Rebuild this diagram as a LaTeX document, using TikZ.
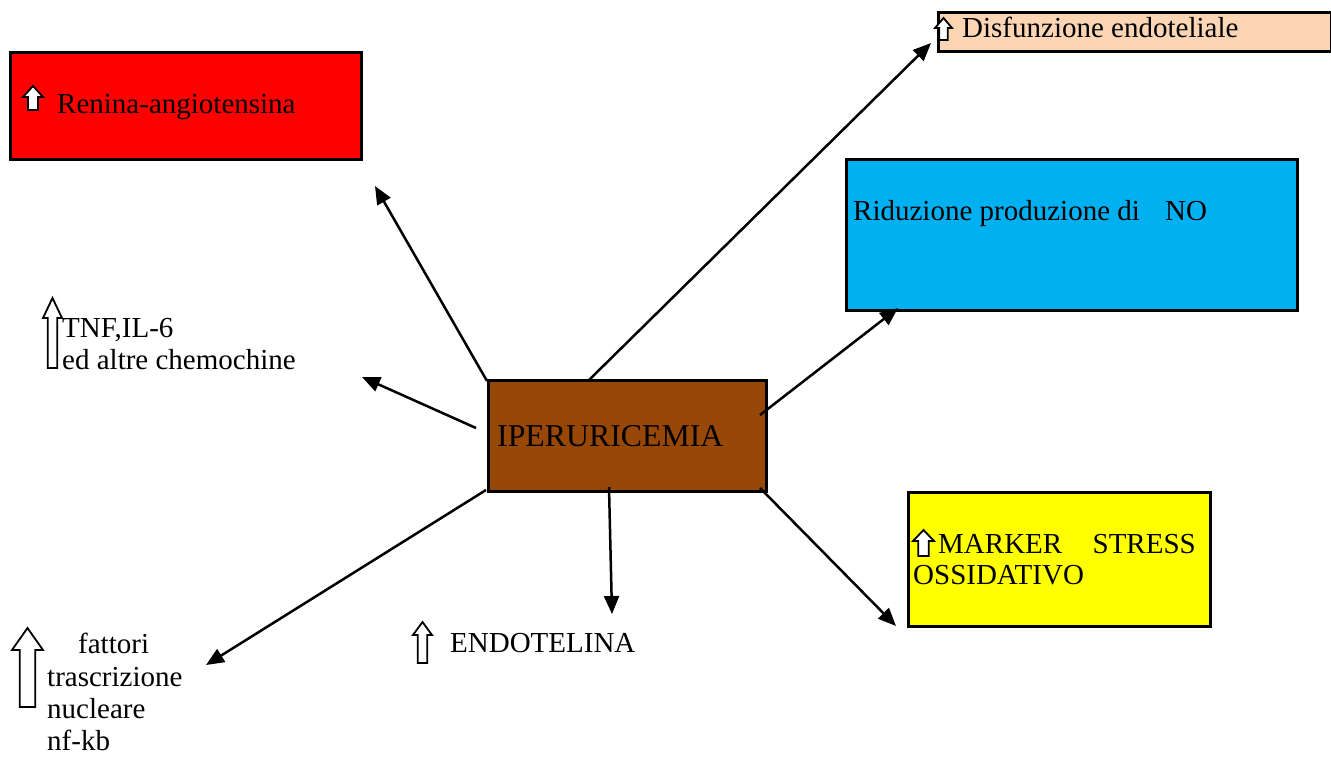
\documentclass[tikz,border=0pt]{standalone}
\usepackage{fontspec}
\setmainfont{Liberation Serif}
\usetikzlibrary{arrows.meta}
\definecolor{redbox}{RGB}{255,0,0}
\definecolor{peach}{RGB}{252,213,180}
\definecolor{skyb}{RGB}{0,176,240}
\definecolor{brownbox}{RGB}{151,71,6}
\definecolor{yelbox}{RGB}{255,255,0}
% block up-arrow icon: #1 x-left, #2 y-top, #3 width, #4 height, #5 head height
\newcommand\blockup[5]{%
  \draw[icon] (#1+#3/2,#2) -- (#1+#3,#2+#5) -- (#1+0.75*#3,#2+#5) -- (#1+0.75*#3,#2+#4)
    -- (#1+0.25*#3,#2+#4) -- (#1+0.25*#3,#2+#5) -- (#1,#2+#5) -- cycle;}
\tikzset{
  box/.style={draw=black, line width=2.6pt, inner sep=0pt, anchor=north west},
  lbl/.style={inner sep=0pt, anchor=base west, font=\fontsize{29}{34}\selectfont},
  conn/.style={line width=2.5pt, -{Triangle[length=18pt,width=15pt]}},
  icon/.style={draw=black, fill=white, line width=1.8pt, line join=miter}
}
\begin{document}
\begin{tikzpicture}[x=1pt,y=-1pt]
\useasboundingbox (0,0) rectangle (1331,756);
% boxes
\node[box, fill=redbox, minimum width=351pt, minimum height=107pt] (ren) at (9,51) {};
\node[box, fill=peach, minimum width=393pt, minimum height=39pt] (dis) at (937,11) {};
\node[box, fill=skyb, minimum width=451pt, minimum height=151pt] (rid) at (845,158) {};
\node[box, fill=brownbox, minimum width=278pt, minimum height=111pt] (hub) at (487,379) {};
\node[box, fill=yelbox, minimum width=302pt, minimum height=134pt] (mark) at (907,491) {};
% texts
\node[lbl] (tren) at (57,113) {Renina-angiotensina};
\node[lbl] (tdis) at (962,37) {Disfunzione endoteliale};
\node[lbl] (trid) at (853,220) {Riduzione produzione di};
\node[lbl] (tno) at (1165,220) {NO};
\node[lbl, font=\fontsize{31.8}{36}\selectfont] (thub) at (497,446) {IPERURICEMIA};
\node[lbl] (tmk1) at (938,553) {MARKER};
\node[lbl, anchor=base east] (tmk2) at (1196,553) {STRESS};
\node[lbl] (tmk3) at (913,584) {OSSIDATIVO};
\node[lbl] (ttnf1) at (62,337) {TNF,IL-6};
\node[lbl] (ttnf2) at (62,369) {ed altre chemochine};
\node[lbl] (tfat1) at (78,653) {fattori};
\node[lbl] (tfat2) at (47,686) {trascrizione};
\node[lbl] (tfat3) at (47,718) {nucleare};
\node[lbl] (tfat4) at (47,750) {nf-kb};
\node[lbl] (tend) at (450,652) {ENDOTELINA};
% icons
\blockup{23}{86}{20}{24}{11}
\blockup{935}{18}{17}{22}{10}
\blockup{43}{298}{19}{70}{20}
\blockup{12}{628}{31}{79}{22}
\blockup{413}{622}{19}{41}{13}
\blockup{913}{530}{21}{26}{11}
% connector end points
\coordinate (s1) at (487,381);
\coordinate (e1) at (375,186);
\coordinate (s2) at (588,381);
\coordinate (e2) at (931,43);
\coordinate (s3) at (760,415);
\coordinate (e3) at (898,308);
\coordinate (s4) at (476,428);
\coordinate (e4) at (362,377);
\coordinate (s5) at (486,490);
\coordinate (e5) at (206,665);
\coordinate (s6) at (609,487);
\coordinate (e6) at (612,614);
\coordinate (s7) at (760,488);
\coordinate (e7) at (896,626);
\draw[conn] (s1) -- (e1);
\draw[conn] (s2) -- (e2);
\draw[conn] (s3) -- (e3);
\draw[conn] (s4) -- (e4);
\draw[conn] (s5) -- (e5);
\draw[conn] (s6) -- (e6);
\draw[conn] (s7) -- (e7);
\end{tikzpicture}
\end{document}
